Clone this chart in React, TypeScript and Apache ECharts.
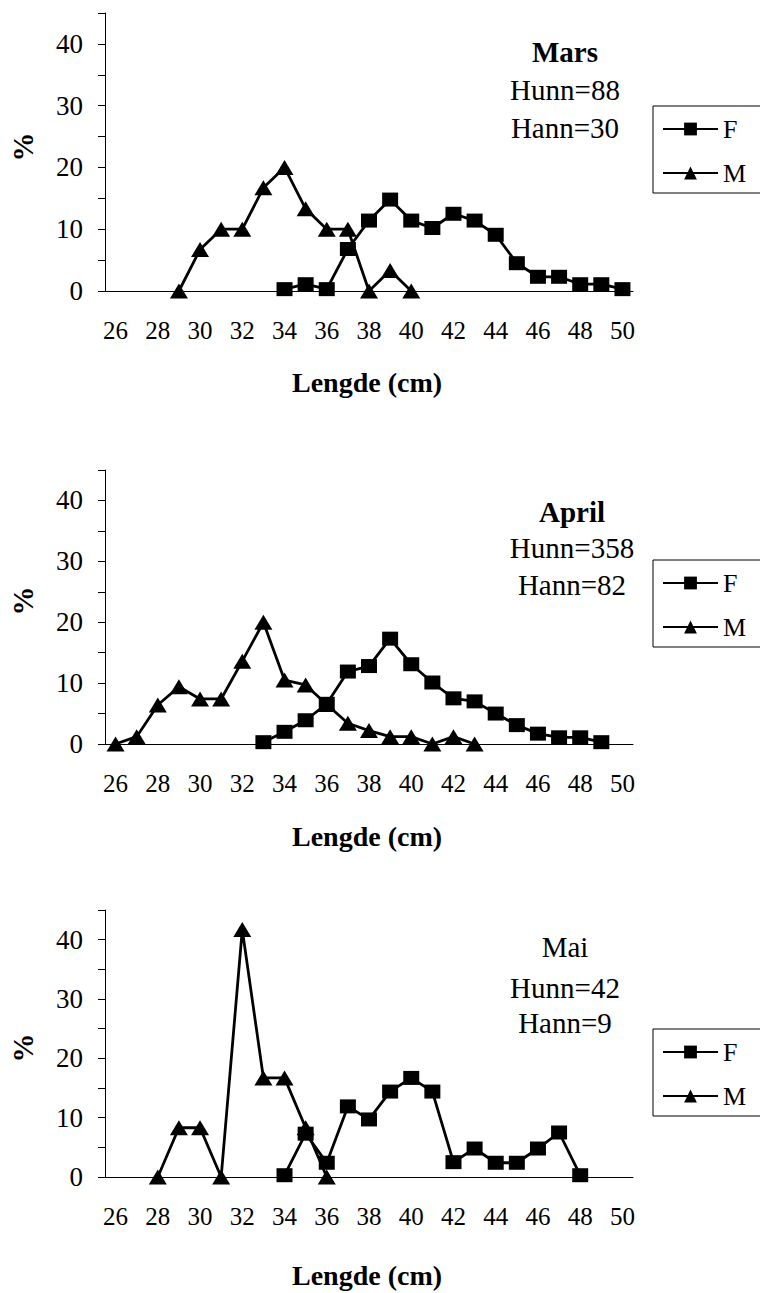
import React, { useEffect, useRef } from "react";
import * as echarts from "echarts";

const lengths = ["26","27","28","29","30","31","32","33","34","35","36","37","38","39","40","41","42","43","44","45","46","47","48","49","50"];
const yTicks = [0, 10, 20, 30, 40];

const marsF = [null,null,null,null,null,null,null,null,0.3,1.1,0.3,6.8,11.4,14.8,11.4,10.2,12.5,11.4,9.1,4.5,2.3,2.3,1.1,1.1,0.3];
const marsM = [null,null,null,0,6.7,10,10,16.7,20,13.3,10,10,0,3.3,0,null,null,null,null,null,null,null,null,null,null];
const aprilF = [null,null,null,null,null,null,null,0.3,2.0,3.9,6.6,11.9,12.8,17.3,13.1,10.1,7.5,7.0,5.0,3.1,1.7,1.1,1.1,0.3,null];
const aprilM = [0,1.2,6.4,9.4,7.4,7.4,13.6,20,10.5,9.7,6.5,3.4,2.2,1.2,1.2,0,1.2,0,null,null,null,null,null,null,null];
const maiF = [null,null,null,null,null,null,null,null,0.3,7.3,2.4,11.9,9.7,14.4,16.7,14.4,2.5,4.8,2.4,2.4,4.8,7.5,0.3,null,null];
const maiM = [null,null,0,8.3,8.3,0,41.7,16.7,16.7,8.3,0,null,null,null,null,null,null,null,null,null,null,null,null,null,null];

const panelTitles = ["Mars", "April", "Mai"];
const panelHunn = ["Hunn=88", "Hunn=358", "Hunn=42"];
const panelHann = ["Hann=30", "Hann=82", "Hann=9"];
const seriesNames = ["F", "M"];
const xTitle = "Lengde (cm)";
const yTitle = "%";

const FONT = "Liberation Serif";

const grids = [
  { top: 13, height: 278 },
  { top: 470, height: 274 },
  { top: 910, height: 267 },
];
const textPos = [
  { x: 565, y: [52, 90, 128], bold: true },
  { x: 572, y: [512, 548, 585], bold: true },
  { x: 565, y: [947, 988, 1023], bold: false },
];
const legendTops = [106, 560, 1029];
const xTitleY = [382, 836, 1275];
const yTitleY = [147, 601, 1048];

export default function App() {
  const ref = useRef<HTMLDivElement>(null);
  useEffect(() => {
    const chart = echarts.init(ref.current!, null, { renderer: "svg" });
    const allData = [[marsF, marsM], [aprilF, aprilM], [maiF, maiM]];
    const series: any[] = [];
    allData.forEach((pair, gi) => {
      pair.forEach((d, si) => {
        series.push({
          type: "line",
          name: seriesNames[si],
          xAxisIndex: gi,
          yAxisIndex: gi,
          data: d,
          showAllSymbol: true,
          symbol: si === 0 ? "rect" : "triangle",
          symbolSize: si === 0 ? [16, 14] : [18, 15],
          lineStyle: { color: "#000", width: 2.8 },
          itemStyle: { color: "#000" },
          z: si === 0 ? 3 : 2,
        });
      });
    });
    const graphic: any[] = [];
    textPos.forEach((p, i) => {
      const lines = [panelTitles[i], panelHunn[i], panelHann[i]];
      lines.forEach((t, j) => {
        graphic.push({
          type: "text",
          x: p.x,
          y: p.y[j],
          style: {
            text: t,
            fontFamily: FONT,
            fontSize: 29,
            fontWeight: j === 0 && p.bold ? "bold" : "normal",
            fill: "#000",
            textAlign: "center",
            textVerticalAlign: "middle",
          },
        });
      });
      graphic.push({
        type: "text",
        x: 367,
        y: xTitleY[i],
        style: {
          text: xTitle,
          fontFamily: FONT,
          fontSize: 28,
          fontWeight: "bold",
          fill: "#000",
          textAlign: "center",
          textVerticalAlign: "middle",
        },
      });
      graphic.push({
        type: "text",
        x: 23,
        y: yTitleY[i],
        rotation: Math.PI / 2,
        style: {
          text: yTitle,
          fontFamily: FONT,
          fontSize: 29,
          fontWeight: "bold",
          fill: "#000",
          textAlign: "center",
          textVerticalAlign: "middle",
        },
      });
    });
    chart.setOption({
      animation: false,
      backgroundColor: "#fff",
      grid: grids.map((g) => ({ left: 105, width: 528, top: g.top, height: g.height })),
      xAxis: grids.map((_, i) => ({
        type: "category",
        gridIndex: i,
        data: lengths,
        boundaryGap: true,
        axisLine: { lineStyle: { color: "#000", width: 1 } },
        axisTick: { interval: 0, length: 7, lineStyle: { color: "#000" } },
        axisLabel: {
          interval: 1,
          margin: 27,
          color: "#000",
          fontFamily: FONT,
          fontSize: 25,
        },
      })),
      yAxis: grids.map((_, i) => ({
        type: "value",
        gridIndex: i,
        min: 0,
        max: 45,
        interval: 5,
        splitLine: { show: false },
        axisLine: { show: true, lineStyle: { color: "#000", width: 1 } },
        axisTick: { show: true, length: 7, lineStyle: { color: "#000" } },
        axisLabel: {
          margin: 22,
          color: "#000",
          fontFamily: FONT,
          fontSize: 27,
          formatter: (v: number) => (yTicks.includes(v) ? String(v) : ""),
        },
      })),
      legend: legendTops.map((t) => ({
        left: 653,
        top: t,
        orient: "vertical",
        data: seriesNames,
        borderColor: "#000",
        borderWidth: 1,
        padding: [9, 40, 6, 9],
        itemGap: 16,
        itemWidth: 55,
        itemHeight: 16,
        selectedMode: false,
        textStyle: { fontFamily: FONT, fontSize: 26, color: "#000", lineHeight: 28 },
      })),
      series,
      graphic,
    });
    return () => chart.dispose();
  }, []);
  return (
    <div
      ref={ref}
      style={{ position: "absolute", left: 0, top: 0, width: 760, height: 1293 }}
    />
  );
}
